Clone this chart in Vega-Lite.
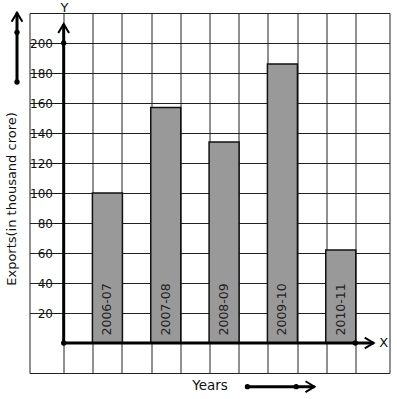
{
  "$schema": "https://vega.github.io/schema/vega-lite/v6.json",
  "width": 360,
  "height": 360,
  "autosize": {"type": "none"},
  "padding": {"left": 29.5, "top": 13, "right": 7.5, "bottom": 26},
  "background": "white",
  "config": {
    "view": {"stroke": "#222", "strokeWidth": 1},
    "font": "DejaVu Sans"
  },
  "datasets": {
    "exports": [
      {"year": "2006-07", "slot": 1.5, "exports": 100},
      {"year": "2007-08", "slot": 3.5, "exports": 157},
      {"year": "2008-09", "slot": 5.5, "exports": 134},
      {"year": "2009-10", "slot": 7.5, "exports": 186},
      {"year": "2010-11", "slot": 9.5, "exports": 62}
    ],
    "lines": [
      {"x": 0, "y": 0, "x2": 10.63, "y2": 0},
      {"x": 0, "y": 0, "x2": 0, "y2": 212.7},
      {"x": -1.6, "y": 174, "x2": -1.6, "y2": 220.2},
      {"x": 6.3, "y": -29.1, "x2": 8.6, "y2": -29.1}
    ],
    "dots": [
      {"x": 0, "y": 0}, {"x": 0, "y": 200}, {"x": 10, "y": 0},
      {"x": -1.6, "y": 174}, {"x": -1.6, "y": 207.1},
      {"x": 6.3, "y": -29.1}, {"x": 7.97, "y": -29.1}
    ],
    "rightHeads": [{"x": 10.63, "y": 0}, {"x": 8.6, "y": -29.1}],
    "upHeads": [{"x": 0, "y": 212.7}, {"x": -1.6, "y": 220.2}],
    "letters": [{"x": 0.03, "y": 223.5, "t": "Y"}, {"x": 10.97, "y": 0, "t": "X"}]
  },
  "layer": [
    {
      "data": {"name": "exports"},
      "mark": {"type": "bar", "width": 30, "fill": "#999999", "stroke": "#111", "strokeWidth": 1.5},
      "encoding": {
        "x": {
          "field": "slot", "type": "quantitative",
          "scale": {"domain": [-1, 11], "nice": false, "zero": false},
          "axis": {
            "values": [0, 1, 2, 3, 4, 5, 6, 7, 8, 9, 10], "tickCount": 30,
            "grid": true, "gridColor": "#222", "gridOpacity": 1, "gridWidth": 1,
            "labels": false, "ticks": false, "domain": false,
            "title": "Years", "titleFontSize": 13.5, "titleFontWeight": "normal",
            "titlePadding": 5, "titleColor": "#111"
          }
        },
        "y": {
          "field": "exports", "type": "quantitative",
          "scale": {"domain": [-20, 220], "nice": false, "zero": false},
          "axis": {
            "values": [20, 40, 60, 80, 100, 120, 140, 160, 180, 200], "tickCount": 30,
            "grid": true, "gridColor": "#222", "gridOpacity": 1, "gridWidth": 1,
            "offset": -30, "domain": false, "labelOverlap": false,
            "tickSize": 6, "tickColor": "#111", "tickWidth": 1,
            "labelFontSize": 12, "labelPadding": 1, "labelColor": "#111",
            "title": "Exports(in thousand crore)", "titleFontSize": 13,
            "titleFontWeight": "normal", "titleColor": "#111",
            "titleX": -48, "titleY": 185.5, "titleAngle": 270,
            "titleBaseline": "middle", "titleAlign": "center"
          }
        }
      }
    },
    {
      "data": {"name": "exports"},
      "mark": {"type": "text", "angle": 270, "align": "left", "baseline": "middle", "fontSize": 12.5, "color": "#222"},
      "encoding": {
        "x": {"field": "slot", "type": "quantitative"},
        "y": {"datum": 5},
        "text": {"field": "year"}
      }
    },
    {
      "data": {"name": "lines"},
      "mark": {"type": "rule", "strokeWidth": 3, "color": "black"},
      "encoding": {
        "x": {"field": "x", "type": "quantitative"},
        "x2": {"field": "x2"},
        "y": {"field": "y", "type": "quantitative"},
        "y2": {"field": "y2"}
      }
    },
    {
      "data": {"name": "dots"},
      "mark": {"type": "point", "filled": true, "size": 28, "color": "black", "opacity": 1},
      "encoding": {
        "x": {"field": "x", "type": "quantitative"},
        "y": {"field": "y", "type": "quantitative"}
      }
    },
    {
      "data": {"name": "rightHeads"},
      "mark": {"type": "point", "shape": "M-1,-0.6L0,0L-1,0.6", "filled": false, "size": 324, "stroke": "black", "strokeWidth": 2, "opacity": 1},
      "encoding": {
        "x": {"field": "x", "type": "quantitative"},
        "y": {"field": "y", "type": "quantitative"}
      }
    },
    {
      "data": {"name": "upHeads"},
      "mark": {"type": "point", "shape": "M-0.6,1L0,0L0.6,1", "filled": false, "size": 324, "stroke": "black", "strokeWidth": 2, "opacity": 1},
      "encoding": {
        "x": {"field": "x", "type": "quantitative"},
        "y": {"field": "y", "type": "quantitative"}
      }
    },
    {
      "data": {"name": "letters"},
      "mark": {"type": "text", "fontSize": 13, "color": "#111", "align": "center", "baseline": "middle"},
      "encoding": {
        "x": {"field": "x", "type": "quantitative"},
        "y": {"field": "y", "type": "quantitative"},
        "text": {"field": "t"}
      }
    }
  ]
}
